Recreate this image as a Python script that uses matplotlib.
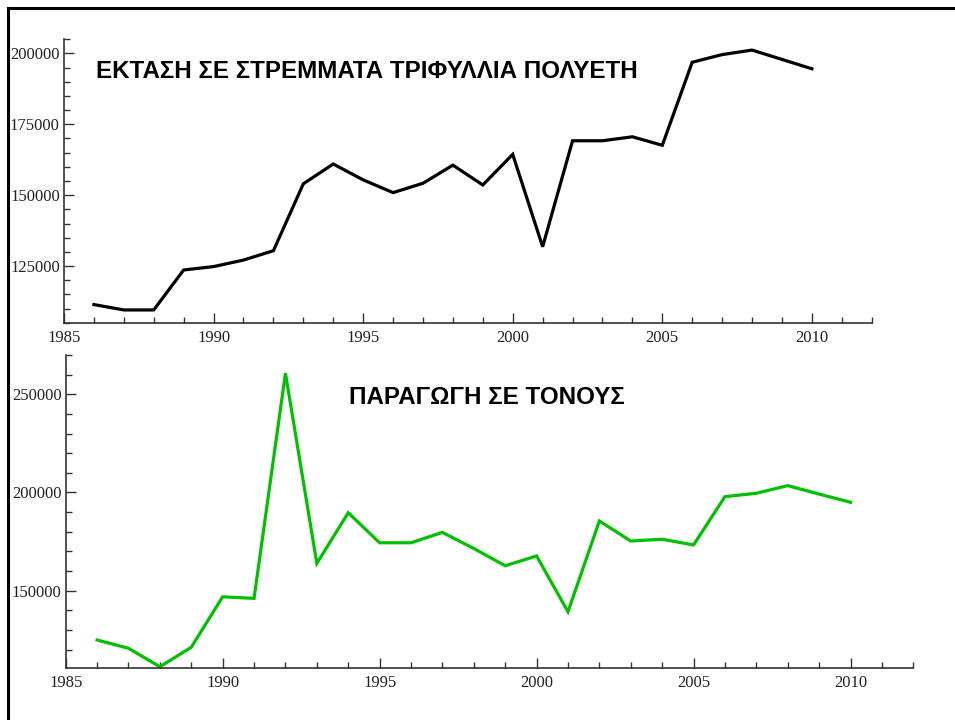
import matplotlib
matplotlib.use("Agg")
import matplotlib.pyplot as plt
from matplotlib.ticker import MultipleLocator
from matplotlib.lines import Line2D

years = list(range(1986, 2011))
area = [111400, 109500, 109500, 123600, 124800, 127100, 130400, 154000, 161000,
        155400, 150900, 154200, 160600, 153600, 164400, 131800, 169200, 169200,
        170600, 167600, 196900, 199600, 201200, 197900, 194600]
production = [124900, 120700, 111300, 121200, 146900, 146100, 260700, 163900, 189700,
              174400, 174400, 179700, 171500, 162700, 167700, 139300, 185500, 175300,
              176200, 173300, 197900, 199600, 203500, 199200, 195000]
title_top = "ΕΚΤΑΣΗ ΣΕ ΣΤΡΕΜΜΑΤΑ ΤΡΙΦΥΛΛΙΑ ΠΟΛΥΕΤΗ"
title_bottom = "ΠΑΡΑΓΩΓΗ ΣΕ ΤΟΝΟΥΣ"
xticks = [1985, 1990, 1995, 2000, 2005, 2010]

W, H = 955, 720
fig = plt.figure(figsize=(W / 100, H / 100), dpi=100)

def px_axes(l, t, r, b):
    return fig.add_axes([l / W, 1 - b / H, (r - l) / W, (b - t) / H])

def style(ax, ymajor, yminor):
    for s in ("top", "right"):
        ax.spines[s].set_visible(False)
    for s in ("left", "bottom"):
        ax.spines[s].set_color("#333333")
        ax.spines[s].set_linewidth(1.2)
    ax.set_xticks(xticks)
    ax.xaxis.set_minor_locator(MultipleLocator(1))
    ax.yaxis.set_major_locator(MultipleLocator(ymajor))
    ax.yaxis.set_minor_locator(MultipleLocator(yminor))
    ax.tick_params(which="both", direction="in", color="#333333", width=1.0)
    ax.tick_params(which="major", length=7)
    ax.tick_params(which="minor", length=4)
    ax.tick_params(axis="y", which="major", pad=3)
    ax.tick_params(axis="x", which="major", pad=5)
    for lab in ax.get_xticklabels() + ax.get_yticklabels():
        lab.set_fontfamily("Liberation Serif")
        lab.set_fontsize(12)
        lab.set_color("#222222")

ax1 = px_axes(64, 39.3, 871.7, 322.7)
ax1.plot(years, area, color="black", lw=2.3, solid_joinstyle="miter")
ax1.set_xlim(1985, 2012)
ax1.set_ylim(105000, 205000)
style(ax1, 25000, 5000)

ax2 = px_axes(65.7, 355, 913.3, 668.3)
ax2.plot(years, production, color="#00c000", lw=2.3, solid_joinstyle="miter")
ax2.set_xlim(1985, 2012)
ax2.set_ylim(110500, 270000)
ax2.set_yticks([150000, 200000, 250000])
style(ax2, 50000, 10000)

fig.text(96 / W, 1 - 78.5 / H, title_top, fontfamily="Liberation Sans",
         fontweight="bold", fontsize=17.4, va="baseline", ha="left")
fig.text(349 / W, 1 - 403.5 / H, title_bottom, fontfamily="Liberation Sans",
         fontweight="bold", fontsize=17.4, va="baseline", ha="left")

fig.add_artist(Line2D([8 / W, 8 / W], [0, 1 - 8 / H], transform=fig.transFigure,
                      color="black", lw=2.2))
fig.add_artist(Line2D([8 / W, 1], [1 - 8 / H, 1 - 8 / H], transform=fig.transFigure,
                      color="black", lw=2.2))

fig.savefig("out.png", dpi=100)
